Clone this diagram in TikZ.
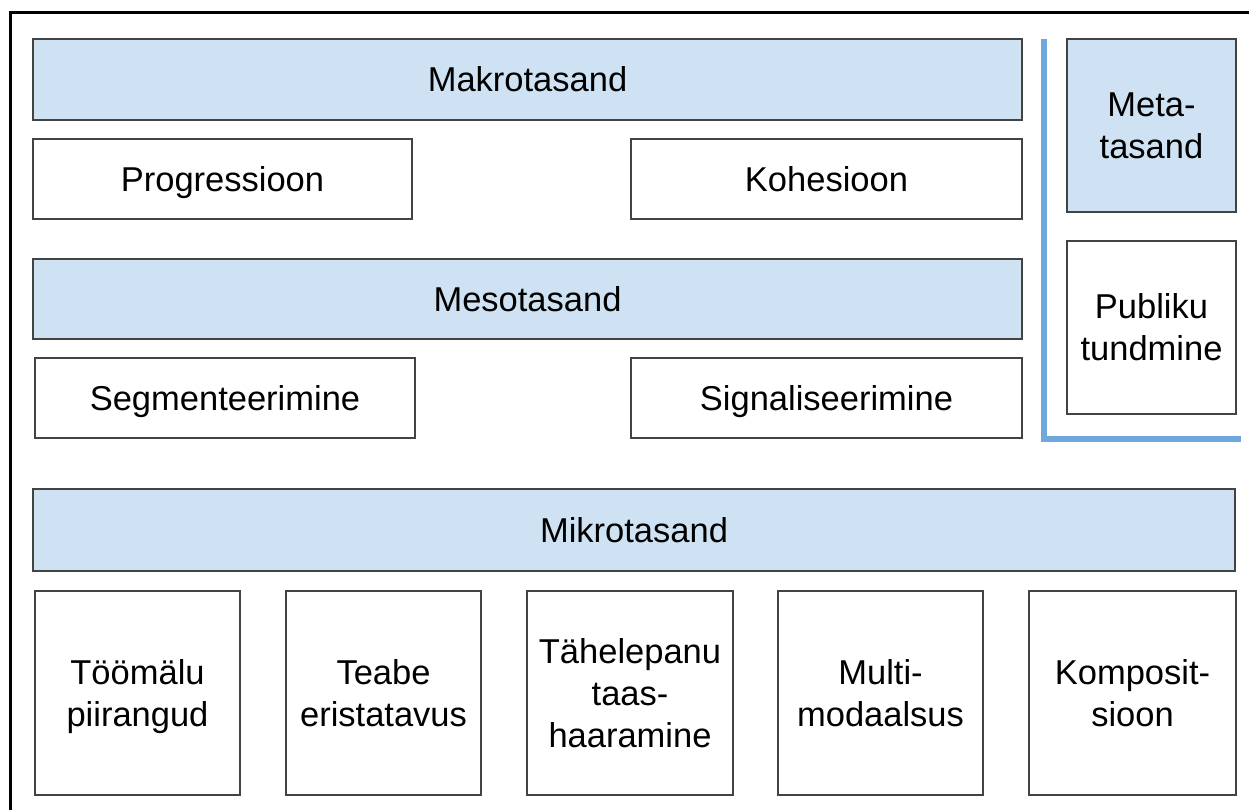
\documentclass[tikz,border=0pt]{standalone}
\usepackage{fontspec}
\setmainfont{Liberation Sans}
\definecolor{boxblue}{HTML}{CFE2F3}
\definecolor{lineblue}{HTML}{6FA8DC}
\definecolor{boxline}{HTML}{434343}
\newcommand\capl[1]{\raisebox{0pt}[0.716em][0pt]{#1}}
\begin{document}
\begin{tikzpicture}[x=1pt,y=-1pt,
  box/.style={draw=boxline,line width=1.3pt,fill=white,inner sep=0pt,align=center,
    font=\fontsize{34.5}{42}\selectfont,text=black},
  lvl/.style={box,fill=boxblue}]
\useasboundingbox (0,0) rectangle (1249,810);
\fill[white] (0,0) rectangle (1249,810);
% outer frame (partly outside)
\draw[line width=3pt,black] (10,810) -- (10,13) -- (1249,13);
% macro
\node[lvl,minimum width=989,minimum height=81] (makro) at (527.5,79.5) {\capl{Makrotasand}};
\node[box,minimum width=379,minimum height=80] (prog) at (222.5,179) {\capl{Progressioon}};
\node[box,minimum width=391,minimum height=80] (koh) at (826.5,179) {\capl{Kohesioon}};
% meso
\node[lvl,minimum width=989,minimum height=80] (meso) at (527.5,299) {\capl{Mesotasand}};
\node[box,minimum width=380,minimum height=80] (seg) at (225,398) {\capl{Segmenteerimine}};
\node[box,minimum width=391,minimum height=80] (sig) at (826.5,398) {\capl{Signaliseerimine}};
% meta
\node[lvl,minimum width=169,minimum height=173] (meta) at (1151.5,125.5) {\capl{Meta-}\\\capl{tasand}};
\node[box,minimum width=169,minimum height=173] (pub) at (1151.5,327.5) {\capl{Publiku}\\\capl{tundmine}};
\coordinate (lt) at (1044,39);
\coordinate (lc) at (1044,439);
\coordinate (lr) at (1241,439);
\draw[lineblue,line width=5.5pt] (lt) -- (lc) -- (lr);
% micro
\node[lvl,minimum width=1202,minimum height=82] (mikro) at (634,530) {\capl{Mikrotasand}};
\node[box,minimum width=205,minimum height=204] (m1) at (137.5,693) {\capl{Töömälu}\\\capl{piirangud}};
\node[box,minimum width=195,minimum height=204] (m2) at (383.5,693) {\capl{Teabe}\\\capl{eristatavus}};
\node[box,minimum width=206,minimum height=204] (m3) at (630,693) {\capl{Tähelepanu}\\\capl{taas-}\\\capl{haaramine}};
\node[box,minimum width=205,minimum height=204] (m4) at (880.5,693) {\capl{Multi-}\\\capl{modaalsus}};
\node[box,minimum width=207,minimum height=204] (m5) at (1132.5,693) {\capl{Komposit-}\\\capl{sioon}};
\end{tikzpicture}
\end{document}
